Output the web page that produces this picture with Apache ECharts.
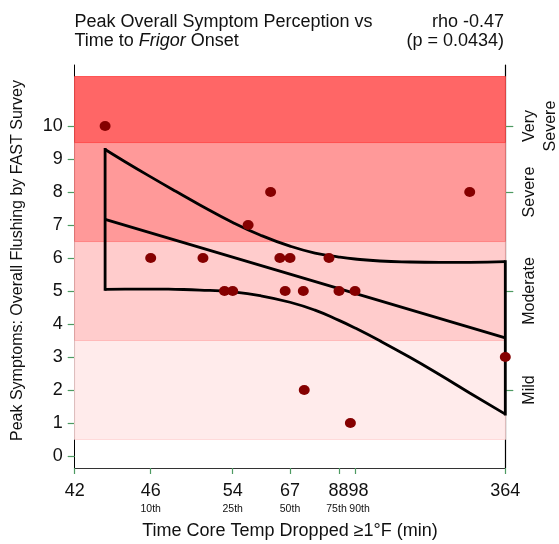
<!DOCTYPE html>
<html><head><meta charset="utf-8">
<script src="https://cdn.jsdelivr.net/npm/echarts@6/dist/echarts.min.js"></script>
<style>html,body{margin:0;padding:0;background:#fff}#c{width:559px;height:544px}</style>
</head><body><div id="c"></div>
<script>
// ---- data ----
const xTickMinutes = [42, 46, 54, 67, 88, 98, 364];
const xTickPercentiles = ['', '10th', '25th', '50th', '75th', '90th', ''];
// where each labelled minute sits on the plot's non-linear time scale (0..100)
const xTickScale = [0, 17.65, 36.69, 50.0, 61.38, 65.10, 100];
const yTicks = [0, 1, 2, 3, 4, 5, 6, 7, 8, 9, 10];
const severityNames = ['Mild', 'Moderate', 'Severe', 'Very\nSevere'];
const severityTicks = [2, 5, 8, 10];
const severityLow = [0.5, 3.5, 6.5, 9.5];
const severityHigh = [3.5, 6.5, 9.5, 11.5];
const minutes = [43.6, 46, 51.1, 53.2, 54, 57.5, 62.6, 64.7, 65.9, 67, 72.7, 73.1, 83.7, 88, 95.1, 98, 301, 364];
const peak = [10, 6, 6, 5, 5, 7, 8, 6, 5, 6, 5, 2, 6, 5, 1, 5, 8, 3];
const fitMinutes = [43.6, 364];
const fitValues = [7.17, 3.58];
const bandMinutes = [43.6, 44.65, 46, 48.4, 50.8, 54, 60.2, 67, 77.7, 88, 98, 142, 195, 248, 301, 364];
const bandUpper = [9.29, 8.92, 8.46, 8.03, 7.61, 7.08, 6.70, 6.36, 6.15, 6.03, 5.97, 5.91, 5.88, 5.87, 5.87, 5.89];
const bandLower = [5.05, 5.06, 5.06, 5.05, 5.03, 4.97, 4.86, 4.66, 4.42, 4.11, 3.88, 3.49, 2.99, 2.46, 1.91, 1.27];

// ---- non-linear time scale ----
function toAxis(m) {
  for (let i = 0; i < xTickMinutes.length - 1; i++) {
    const a = xTickMinutes[i], b = xTickMinutes[i + 1];
    if (m <= b || i === xTickMinutes.length - 2) {
      return xTickScale[i] + (m - a) / (b - a) * (xTickScale[i + 1] - xTickScale[i]);
    }
  }
}
const FONT = 'Liberation Sans, Arial, Helvetica, sans-serif';
const TICK = '#4E9A62';
const bandColors = ['#FFEBEB', '#FFCCCC', '#FF9999', '#FF6666'];
const bandBorders = ['#FFDADA', '#FFBABA', '#FF8585', '#FF5050'];

const xTickPos = xTickMinutes.map(toAxis);
const pts = minutes.map((m, i) => [toAxis(m), peak[i]]);
const fit = fitMinutes.map((m, i) => [toAxis(m), fitValues[i]]);
const up = bandMinutes.map((m, i) => [toAxis(m), bandUpper[i]]);
const lo = bandMinutes.map((m, i) => [toAxis(m), bandLower[i]]);
const n = bandMinutes.length - 1;
const capL = [[toAxis(bandMinutes[0]), bandUpper[0]], [toAxis(bandMinutes[0]), bandLower[0]]];
const capR = [[toAxis(bandMinutes[n]), bandUpper[n]], [toAxis(bandMinutes[n]), bandLower[n]]];

const chart = echarts.init(document.getElementById('c'), null, {renderer: 'canvas'});
const lineSt = {color: '#000', width: 2.8};
chart.setOption({
  animation: false,
  backgroundColor: '#fff',
  textStyle: {fontFamily: FONT},
  grid: {left: 74.7, right: 53.7, top: 65, bottom: 76, containLabel: false, outerBoundsMode: 'none'},
  graphic: [
    {type: 'text', left: 74.5, top: 12.5, style: {
      text: 'Peak Overall Symptom Perception vs\nTime to {i|Frigor} Onset',
      fontFamily: FONT, fontSize: 18, lineHeight: 19, fill: '#111',
      rich: {i: {fontStyle: 'italic', fontFamily: FONT, fontSize: 18, lineHeight: 19, fill: '#111'}}
    }},
    {type: 'text', right: 55, top: 12.5, style: {
      text: 'rho -0.47', fontFamily: FONT, fontSize: 18, lineHeight: 19, fill: '#111'
    }},
    {type: 'text', right: 55, top: 31.5, style: {
      text: '(p = 0.0434)', fontFamily: FONT, fontSize: 18, lineHeight: 19, fill: '#111'
    }}
  ],
  xAxis: {
    type: 'value', min: 0, max: 100,
    axisLine: {show: true, onZero: false, lineStyle: {color: '#333', width: 1.2}},
    axisTick: {show: true, customValues: xTickPos, length: 6, lineStyle: {color: TICK, width: 1.2}},
    axisLabel: {
      customValues: xTickPos, margin: 13, color: '#111', hideOverlap: false,
      formatter: v => {
        let k = 0, best = 1e9;
        xTickPos.forEach((p, i) => { if (Math.abs(p - v) < best) { best = Math.abs(p - v); k = i; } });
        // nudge the crowded 88/98 pair apart, as the reference does
        const sv = k === 5 ? 'vr' : (k === 4 ? 'vl' : 'v');
        const sp = k === 5 ? 'pr' : (k === 4 ? 'pl' : 'p');
        return xTickPercentiles[k]
          ? '{' + sv + '|' + xTickMinutes[k] + '}\n{' + sp + '|' + xTickPercentiles[k] + '}'
          : '{v|' + xTickMinutes[k] + '}';
      },
      rich: {
        v: {fontSize: 18, lineHeight: 20, fontFamily: FONT, color: '#111'},
        vr: {fontSize: 18, lineHeight: 20, fontFamily: FONT, color: '#111', padding: [0, 0, 0, 7]},
        vl: {fontSize: 18, lineHeight: 20, fontFamily: FONT, color: '#111', padding: [0, 1, 0, 0]},
        p: {fontSize: 10.5, lineHeight: 16, fontFamily: FONT, color: '#111'},
        pr: {fontSize: 10.5, lineHeight: 16, fontFamily: FONT, color: '#111', padding: [0, 0, 0, 9]},
        pl: {fontSize: 10.5, lineHeight: 16, fontFamily: FONT, color: '#111', padding: [0, 5, 0, 0]}
      }
    },
    splitLine: {show: false},
    name: 'Time Core Temp Dropped \u22651\u00B0F (min)', nameLocation: 'middle', nameGap: 54,
    nameTextStyle: {fontSize: 18, color: '#111', fontFamily: FONT}
  },
  yAxis: [
    {
      type: 'value', min: -0.364, max: 11.85, position: 'left',
      axisLine: {show: true, onZero: false, lineStyle: {color: '#000', width: 1}},
      axisTick: {show: true, customValues: yTicks, length: 7, lineStyle: {color: TICK, width: 1.2}},
      axisLabel: {customValues: yTicks, margin: 12, fontSize: 18, color: '#111', fontFamily: FONT},
      splitLine: {show: false},
      name: 'Peak Symptoms: Overall Flushing by FAST Survey', nameLocation: 'middle', nameGap: 49,
      nameTextStyle: {fontSize: 16, color: '#111', fontFamily: FONT, padding: [0, 0, 0, 12]}
    },
    {
      type: 'value', min: -0.364, max: 11.85, position: 'right',
      axisLine: {show: true, onZero: false, lineStyle: {color: '#000', width: 1.2}},
      axisTick: {show: true, customValues: severityTicks, length: 8, lineStyle: {color: TICK, width: 1.2}},
      axisLabel: {
        customValues: severityTicks, margin: 14, rotate: 90, fontSize: 16, lineHeight: 21,
        color: '#111', fontFamily: FONT,
        formatter: v => severityNames[severityTicks.indexOf(Math.round(v))] || ''
      },
      splitLine: {show: false}
    }
  ],
  series: [
    {
      type: 'line', data: [], silent: true, z: 1,
      markArea: {
        silent: true,
        data: severityLow.map((l, i) => [
          {yAxis: l, itemStyle: {color: bandColors[i], borderColor: bandBorders[i], borderWidth: 1}},
          {yAxis: severityHigh[i]}
        ])
      }
    },
    {type: 'line', data: fit, symbol: 'none', z: 3, lineStyle: lineSt, silent: true},
    {type: 'line', data: up, symbol: 'none', smooth: 0.5, z: 3, lineStyle: lineSt, silent: true},
    {type: 'line', data: lo, symbol: 'none', smooth: 0.5, z: 3, lineStyle: lineSt, silent: true},
    {type: 'line', data: capL, symbol: 'none', z: 3, lineStyle: Object.assign({cap: 'square'}, lineSt), silent: true},
    {type: 'line', data: capR, symbol: 'none', z: 3, lineStyle: Object.assign({cap: 'square'}, lineSt), silent: true},
    {type: 'scatter', data: pts, symbol: 'circle', symbolSize: [11, 10], z: 5,
      itemStyle: {color: '#850000', opacity: 1}}
  ]
});
</script></body></html>
